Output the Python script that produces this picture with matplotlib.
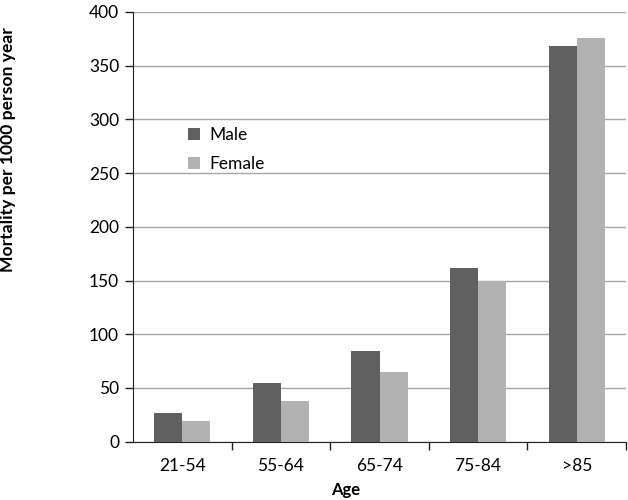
import matplotlib.pyplot as plt
import numpy as np

ages = ["21-54", "55-64", "65-74", "75-84", ">85"]
male = [27, 55, 84, 162, 368]
female = [19, 38, 65, 150, 376]

plt.rcParams["font.family"] = ["Lato", "DejaVu Sans"]

fig = plt.figure(figsize=(6.28, 5), dpi=100)
ax = fig.add_axes([0.2118, 0.1166, 0.785, 0.8594])

x = np.arange(len(ages))
width = 0.285
ax.bar(x - width / 2, male, width, color="#606060", label="Male", zorder=3)
ax.bar(x + width / 2, female, width, color="#b2b2b2", label="Female", zorder=3)

ax.set_xlim(-0.5, len(ages) - 0.5)
ax.set_ylim(0, 400)
ax.set_yticks(range(0, 401, 50))
ax.yaxis.grid(True, color="#a6a6a6", linewidth=1.0, zorder=0)
ax.set_axisbelow(True)

ax.set_xticks(x)
ax.set_xticklabels(ages)
ax.set_xticks(np.arange(0.5, len(ages)), minor=True)
ax.tick_params(axis="x", which="major", length=0, pad=12, labelsize=12.5)
ax.tick_params(axis="x", which="minor", length=6, width=1, color="#222222")
ax.tick_params(axis="y", length=6, width=1, color="#222222", labelsize=12.5, pad=4)

for side in ("top", "right"):
    ax.spines[side].set_visible(False)
ax.spines["left"].set_color("#222222")
ax.spines["bottom"].set_color("#222222")

ax.set_xlabel("Age", fontsize=12, fontweight="bold")
ax.set_ylabel("Mortality per 1000 person year", fontsize=12.6, fontweight="bold")
ax.xaxis.set_label_coords(0.432, -0.094)
ax.yaxis.set_label_coords(-0.238, 0.679)

ax.legend(loc="center left", bbox_to_anchor=(0.08, 0.68), frameon=False,
          fontsize=12.5, handlelength=0.7, handleheight=0.7, handletextpad=0.5,
          labelspacing=0.75)

fig.savefig("out.png", dpi=100)
